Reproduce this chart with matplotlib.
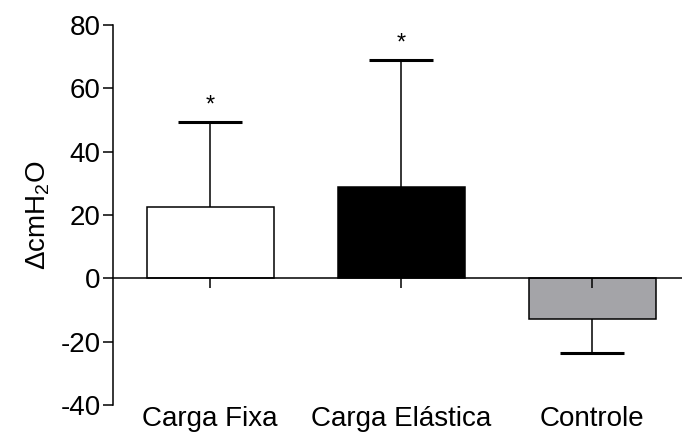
import matplotlib
matplotlib.use("Agg")
import matplotlib.pyplot as plt

plt.rcParams['font.family'] = ['Liberation Sans', 'DejaVu Sans']
plt.rcParams['mathtext.fontset'] = 'custom'
plt.rcParams['mathtext.rm'] = 'Liberation Sans'
plt.rcParams['mathtext.it'] = 'Liberation Sans'
plt.rcParams['axes.unicode_minus'] = False

# données
groupes = ["Carga Fixa", "Carga Elástica", "Controle"]
moyennes = [22.4, 28.7, -12.8]
erreurs = [27.1, 40.3, 10.7]
couleurs = ["white", "black", "#a4a4a8"]
signif = ["*", "*", ""]

fig = plt.figure(figsize=(6.82, 4.4), dpi=100)
ax = fig.add_axes([0.1657, 0.0795, 0.8343, 0.8636])
ax.set_axisbelow(False)

x = list(range(len(groupes)))
largeur = 0.665

ax.bar(x, moyennes, width=largeur, color=couleurs, edgecolor="black",
       linewidth=1.1, zorder=2)

# barres d'erreur d'un seul côté (vers le haut si positif, vers le bas sinon)
bouts = [m + e if m >= 0 else m - e for m, e in zip(moyennes, erreurs)]
ax.vlines(x, moyennes, bouts, color="black", linewidth=1.1, zorder=1)
ax.hlines(bouts, [xi - largeur / 4 for xi in x], [xi + largeur / 4 for xi in x],
          color="black", linewidth=2.2, zorder=1)

# étoiles de significativité
for xi, b, s in zip(x, bouts, signif):
    if s:
        ax.annotate(s, xy=(xi, b), xytext=(0, 4), textcoords="offset points",
                    ha="center", va="bottom", fontsize=17)

ax.set_xlim(-0.508, 2.47)
ax.set_ylim(-40, 80)
ax.set_yticks([-40, -20, 0, 20, 40, 60, 80])
ax.tick_params(axis="y", labelsize=20, length=7, width=1.1, direction="out", pad=2)
ax.tick_params(axis="x", length=7, width=1.1, direction="out", labelbottom=False)
ax.set_xticks(x)

ax.spines["top"].set_visible(False)
ax.spines["right"].set_visible(False)
ax.spines["bottom"].set_position(("data", 0))
ax.spines["bottom"].set_linewidth(1.1)
ax.spines["left"].set_linewidth(1.1)
ax.spines["bottom"].set_zorder(3)

# étiquettes des groupes en bas
for xi, g in zip(x, groupes):
    ax.annotate(g, xy=(xi, 0), xycoords=("data", "axes fraction"),
                xytext=(0, -1), textcoords="offset points",
                ha="center", va="top", fontsize=20)

ax.set_ylabel("ΔcmH$_2$O", fontsize=20, labelpad=6)

fig.savefig("out.png", dpi=100)
